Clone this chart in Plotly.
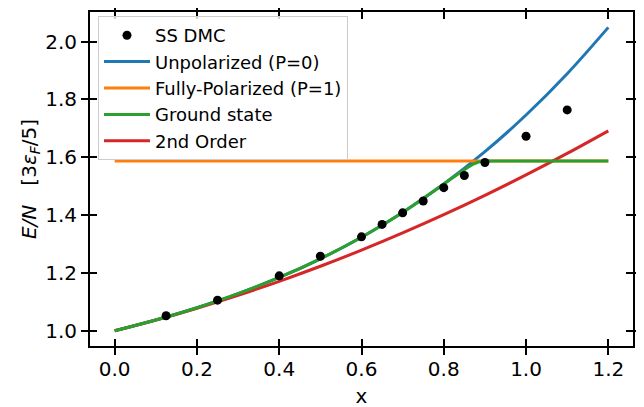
import plotly.graph_objects as go

# ---- data ----
x_curve = [0.0, 0.1, 0.2, 0.3, 0.4, 0.5, 0.6, 0.7, 0.8, 0.9, 1.0, 1.1, 1.2]
unpolarized = [1.000, 1.0374, 1.0798, 1.1284, 1.1844, 1.2491, 1.3237, 1.4095,
               1.5077, 1.6195, 1.7462, 1.8890, 2.0493]
second_order = [1.000, 1.0372, 1.0782, 1.1228, 1.1712, 1.2232, 1.2790, 1.3385,
                1.4017, 1.4686, 1.5392, 1.6135, 1.6916]
x_pol = [0.0, 1.2]
polarized = [1.587, 1.587]
x_ground = [0.0, 0.1, 0.2, 0.3, 0.4, 0.5, 0.6, 0.7, 0.8, 0.85, 0.87, 0.885, 0.9,
            1.0, 1.1, 1.2]
ground = [1.000, 1.0374, 1.0798, 1.1284, 1.1844, 1.2491, 1.3237, 1.4095,
          1.5077, 1.557, 1.575, 1.584, 1.587, 1.587, 1.587, 1.587]
x_dmc = [0.125, 0.25, 0.4, 0.5, 0.6, 0.65, 0.7, 0.75, 0.8, 0.85, 0.9, 1.0, 1.1]
y_dmc = [1.052, 1.106, 1.19, 1.258, 1.325, 1.368, 1.408, 1.449, 1.495, 1.537,
         1.582, 1.673, 1.764]
x_ticks = [0.0, 0.2, 0.4, 0.6, 0.8, 1.0, 1.2]
y_ticks = [1.0, 1.2, 1.4, 1.6, 1.8, 2.0]

FONT = "DejaVu Sans"
LW = 3

fig = go.Figure()
fig.add_trace(go.Scatter(x=x_curve, y=unpolarized, mode="lines", name="Unpolarized (P=0)",
                         line=dict(color="#1f77b4", width=LW, shape="spline"), legendrank=2))
fig.add_trace(go.Scatter(x=x_pol, y=polarized, mode="lines", name="Fully-Polarized (P=1)",
                         line=dict(color="#ff7f0e", width=LW), legendrank=3))
fig.add_trace(go.Scatter(x=x_curve, y=second_order, mode="lines", name="2nd Order",
                         line=dict(color="#d62728", width=LW, shape="spline"), legendrank=5))
fig.add_trace(go.Scatter(x=x_ground, y=ground, mode="lines", name="Ground state",
                         line=dict(color="#2ca02c", width=LW, shape="spline", smoothing=0.6),
                         legendrank=4))
fig.add_trace(go.Scatter(x=x_dmc, y=y_dmc, mode="markers", name="SS DMC",
                         marker=dict(color="black", size=9), legendrank=1))
# helper trace for the overlaid (inside-tick) axes
fig.add_trace(go.Scatter(x=[x_ticks[0]], y=[y_ticks[0]], xaxis="x2", yaxis="y2",
                         mode="markers", marker=dict(opacity=0), showlegend=False,
                         hoverinfo="skip"))

xr = [-0.06, 1.26]
yr = [0.9475, 2.1025]
axis_common = dict(showgrid=False, zeroline=False, tickwidth=2, ticklen=7,
                   tickcolor="black", automargin=False)

# the page body adds an 8px offset, so margins are shifted to compensate
fig.update_layout(
    width=644, height=407,
    margin=dict(l=82, r=19, t=4, b=69),
    paper_bgcolor="white", plot_bgcolor="white",
    font=dict(family=FONT, size=20, color="black"),
    xaxis=dict(range=xr, tickvals=x_ticks, ticktext=[f"{v:.1f}" for v in x_ticks],
               ticks="outside", mirror="ticks", showline=True, linewidth=2,
               linecolor="black", tickfont=dict(size=20), ticklabelstandoff=-3,
               title=dict(text="x", font=dict(size=20), standoff=9), **axis_common),
    yaxis=dict(range=yr, tickvals=y_ticks, ticktext=[f"{v:.1f}" for v in y_ticks],
               ticks="outside", mirror="ticks", showline=True, linewidth=2,
               linecolor="black", tickfont=dict(size=20),
               title=dict(text="<i>E/N</i>   [3<i>ε</i><sub><i>F</i></sub>/5]",
                          font=dict(size=20), standoff=3), **axis_common),
    xaxis2=dict(range=xr, tickvals=x_ticks, ticks="inside", mirror="ticks",
                showticklabels=False, showline=False, overlaying="x", anchor="y2",
                **axis_common),
    yaxis2=dict(range=yr, tickvals=y_ticks, ticks="inside", mirror="ticks",
                showticklabels=False, showline=False, overlaying="y", anchor="x2",
                **axis_common),
    legend=dict(x=0.0147, y=0.988, xanchor="left", yanchor="top",
                bgcolor="rgba(255,255,255,0.8)", bordercolor="#cccccc", borderwidth=1,
                itemwidth=46,
                font=dict(family=FONT, size=18)),
    showlegend=True,
)

fig.write_html("out.html")
